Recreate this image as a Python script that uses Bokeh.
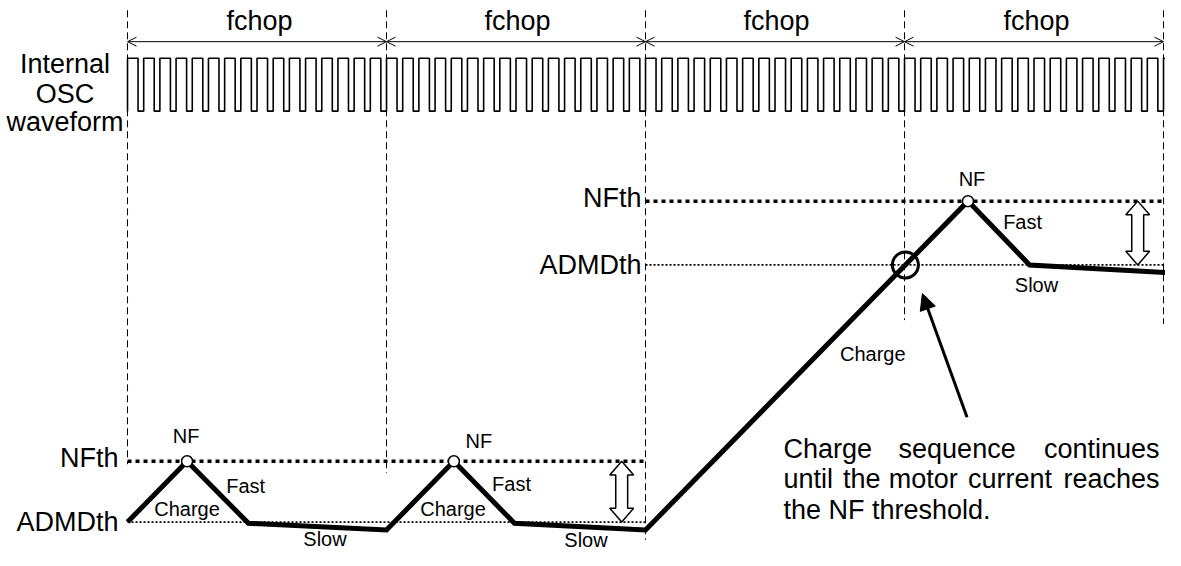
from bokeh.plotting import figure
from bokeh.models import Range1d, Arrow, OpenHead, NormalHead
from bokeh.core.properties import value
from bokeh.embed import file_html
from bokeh.resources import INLINE

# ---------------- data (time in fchop periods, current in arbitrary units) ----------------
chop_labels = ["fchop", "fchop", "fchop", "fchop"]
chop_bounds = [0.0, 1.0, 2.0, 3.0, 4.0]
osc_pulses_per_chop = 16
osc_duty = 0.65
osc_low, osc_high = 6.76, 7.63

thr_spans = [(0.0, 2.0), (2.0, 4.0)]
nfth_levels = [1.0, 5.28]
admdth_levels = [0.0, 4.23]

current_t = [0.0, 0.23, 0.467, 1.0, 1.26, 1.494, 2.0, 3.245, 3.483, 4.023]
current_i = [0.0, 1.0, -0.02, -0.13, 1.0, -0.02, -0.13, 5.28, 4.23, 4.10]
nf_index = [1, 4, 7]

phase_names = ["NF", "Fast", "Charge", "Slow"]
left_labels = ["Internal", "OSC", "waveform"]
note_lines = [["Charge", "sequence", "continues"],
              ["until", "the", "motor", "current", "reaches"],
              ["the NF threshold."]]

# ---------------- layout helpers (reference pixel layout -> data units) ----------------
X0_PX, PX_PER_T = 128.0, 261.0
Y0_PX, PX_PER_I = 532.0, 62.0
REF_W, REF_H = 1174.0, 561.0   # reference extent shown inside the 1165x550 figure
def tx(px):
    return (px - X0_PX) / PX_PER_T
def iy(py):
    return (Y0_PX - py) / PX_PER_I
def px_of_i(i):
    return Y0_PX - i * PX_PER_I

FONT = value("Liberation Sans")
BIG = value("27px")
SMALL = value("20px")

p = figure(width=1165, height=550, output_backend="svg", toolbar_location=None,
           x_range=Range1d(tx(0), tx(REF_W)), y_range=Range1d(iy(REF_H), iy(0)),
           x_axis_location=None, y_axis_location=None, min_border=0)
p.outline_line_color = None
p.grid.visible = False
p.background_fill_color = "white"
p.border_fill_color = "white"

def label(xs_px, ys_px, texts, size, align):
    p.text(x=[tx(v) for v in xs_px], y=[iy(v) for v in ys_px], text=texts,
           text_font=FONT, text_font_size=size, text_align=align, text_baseline="alphabetic")

# vertical chop boundaries
bottoms_px = [473, 482, 550, 326, 330]
p.segment(x0=chop_bounds, y0=[iy(10)] * 5, x1=chop_bounds, y1=[iy(b) for b in bottoms_px],
          line_color="black", line_width=1, line_dash="7 4")

# fchop arrows and labels
for k in range(4):
    p.add_layout(Arrow(start=OpenHead(size=9, line_width=1), end=OpenHead(size=9, line_width=1),
                       x_start=chop_bounds[k], y_start=iy(42), x_end=chop_bounds[k + 1], y_end=iy(42),
                       line_width=1, line_color="black"))
label([261, 521, 782, 1044], [21] * 4, chop_labels, BIG, "center")

# internal OSC waveform
n_pulses = osc_pulses_per_chop * (len(chop_bounds) - 1)
per = 1.0 / osc_pulses_per_chop
wx, wy = [], []
for k in range(n_pulses + 1):
    t0 = k * per
    t1 = min(t0 + osc_duty * per, tx(1180))
    wx += [t0, t0, t1, t1]
    wy += [osc_low, osc_high, osc_high, osc_low]
p.line(wx, wy, line_color="black", line_width=1.6)
label([65] * 3, [65, 95, 124], left_labels, BIG, "center")

# threshold lines
for (a, b), nf, ad in zip(thr_spans, nfth_levels, admdth_levels):
    p.line([a, b], [nf, nf], line_color="black", line_width=3.5, line_dash="4 4")
    p.line([a, b], [ad, ad], line_color="black", line_width=1.8, line_dash="2 2")
for xr, nf, ad in zip([119, 646], nfth_levels, admdth_levels):
    label([xr, xr], [px_of_i(nf) - 3, px_of_i(ad)], ["NFth", "ADMDth"], BIG, "right")

# hollow double arrows between NFth and ADMDth
for cxp, nf, ad in zip([626, 1146], nfth_levels, admdth_levels):
    yt, yb = px_of_i(nf), px_of_i(ad)
    hw, sw, hl = 12, 6, 14
    pts = [(cxp, yt), (cxp + hw, yt + hl), (cxp + sw, yt + hl), (cxp + sw, yb - hl), (cxp + hw, yb - hl),
           (cxp, yb), (cxp - hw, yb - hl), (cxp - sw, yb - hl), (cxp - sw, yt + hl), (cxp - hw, yt + hl)]
    p.patch([tx(a) for a, _ in pts], [iy(b) for _, b in pts], fill_color="white",
            line_color="black", line_width=1.5)

# motor current trace
p.line(current_t, current_i, line_color="black", line_width=5, line_join="miter")
p.scatter([current_t[i] for i in nf_index], [current_i[i] for i in nf_index], marker="circle",
          size=11, fill_color="white", line_color="black", line_width=1.5)

# crossing of the charge ramp with upper ADMDth
i6, i7 = 6, 7
lvl = admdth_levels[1]
cross_t = current_t[i6] + (lvl - current_i[i6]) / (current_i[i7] - current_i[i6]) * (current_t[i7] - current_t[i6])
p.scatter([cross_t], [lvl], marker="circle", size=26, fill_color=None, line_color="black", line_width=3)

# phase labels
phase_pos_px = {
    "NF": [(187, 444), (482, 449), (979, 182)],
    "Fast": [(247, 495), (515, 493), (1030, 226)],
    "Charge": [(188, 519), (456, 519), (879, 361)],
    "Slow": [(327, 549), (590, 550), (1044, 290)],
}
for name in phase_names:
    pos = phase_pos_px[name]
    label([a for a, _ in pos], [b for _, b in pos], [name] * len(pos), SMALL, "center")

# pointer arrow
p.add_layout(Arrow(end=NormalHead(size=16, fill_color="black", line_color="black", line_width=1),
                   x_start=tx(974), y_start=iy(425), x_end=tx(929), y_end=iy(299),
                   line_width=3, line_color="black"))

# note text (justified manually)
note_layout = [
    [(789, "left"), (964, "center"), (1168, "right")],
    [(789, "left"), (849, "left"), (895, "left"), (975, "left"), (1168, "right")],
    [(789, "left")],
]
for words, lay, yc in zip(note_lines, note_layout, [457, 488, 520]):
    for w, (xp, al) in zip(words, lay):
        label([xp], [yc], [w], BIG, al)

open("out.html", "w").write(file_html(p, INLINE))
